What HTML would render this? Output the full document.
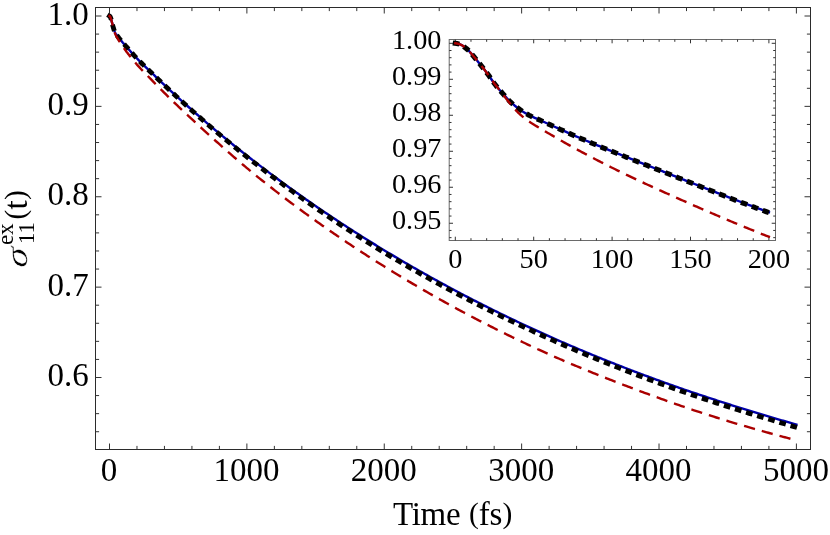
<!DOCTYPE html>
<html><head><meta charset="utf-8"><title>Chart</title>
<style>html,body{margin:0;padding:0;background:#fff;}svg{display:block;will-change:transform;}</style>
</head><body>
<svg width="830" height="535" viewBox="0 0 830 535">
<rect x="0" y="0" width="830" height="535" fill="#fff"/>
<rect x="95.5" y="7.5" width="715.0" height="442.0" fill="none" stroke="#2b2b2b" stroke-width="1"/>
<path d="M109.50 449.50 v-6.00 M109.50 7.50 v6.00 M136.98 449.50 v-3.60 M136.98 7.50 v3.60 M164.45 449.50 v-3.60 M164.45 7.50 v3.60 M191.93 449.50 v-3.60 M191.93 7.50 v3.60 M219.40 449.50 v-3.60 M219.40 7.50 v3.60 M246.88 449.50 v-6.00 M246.88 7.50 v6.00 M274.36 449.50 v-3.60 M274.36 7.50 v3.60 M301.83 449.50 v-3.60 M301.83 7.50 v3.60 M329.31 449.50 v-3.60 M329.31 7.50 v3.60 M356.78 449.50 v-3.60 M356.78 7.50 v3.60 M384.26 449.50 v-6.00 M384.26 7.50 v6.00 M411.74 449.50 v-3.60 M411.74 7.50 v3.60 M439.21 449.50 v-3.60 M439.21 7.50 v3.60 M466.69 449.50 v-3.60 M466.69 7.50 v3.60 M494.16 449.50 v-3.60 M494.16 7.50 v3.60 M521.64 449.50 v-6.00 M521.64 7.50 v6.00 M549.12 449.50 v-3.60 M549.12 7.50 v3.60 M576.59 449.50 v-3.60 M576.59 7.50 v3.60 M604.07 449.50 v-3.60 M604.07 7.50 v3.60 M631.54 449.50 v-3.60 M631.54 7.50 v3.60 M659.02 449.50 v-6.00 M659.02 7.50 v6.00 M686.50 449.50 v-3.60 M686.50 7.50 v3.60 M713.97 449.50 v-3.60 M713.97 7.50 v3.60 M741.45 449.50 v-3.60 M741.45 7.50 v3.60 M768.92 449.50 v-3.60 M768.92 7.50 v3.60 M796.40 449.50 v-6.00 M796.40 7.50 v6.00 M95.50 16.00 h6.00 M810.50 16.00 h-6.00 M95.50 34.08 h3.60 M810.50 34.08 h-3.60 M95.50 52.15 h3.60 M810.50 52.15 h-3.60 M95.50 70.23 h3.60 M810.50 70.23 h-3.60 M95.50 88.30 h3.60 M810.50 88.30 h-3.60 M95.50 106.37 h6.00 M810.50 106.37 h-6.00 M95.50 124.45 h3.60 M810.50 124.45 h-3.60 M95.50 142.53 h3.60 M810.50 142.53 h-3.60 M95.50 160.60 h3.60 M810.50 160.60 h-3.60 M95.50 178.67 h3.60 M810.50 178.67 h-3.60 M95.50 196.75 h6.00 M810.50 196.75 h-6.00 M95.50 214.82 h3.60 M810.50 214.82 h-3.60 M95.50 232.90 h3.60 M810.50 232.90 h-3.60 M95.50 250.97 h3.60 M810.50 250.97 h-3.60 M95.50 269.05 h3.60 M810.50 269.05 h-3.60 M95.50 287.13 h6.00 M810.50 287.13 h-6.00 M95.50 305.20 h3.60 M810.50 305.20 h-3.60 M95.50 323.28 h3.60 M810.50 323.28 h-3.60 M95.50 341.35 h3.60 M810.50 341.35 h-3.60 M95.50 359.43 h3.60 M810.50 359.43 h-3.60 M95.50 377.50 h6.00 M810.50 377.50 h-6.00 M95.50 395.57 h3.60 M810.50 395.57 h-3.60 M95.50 413.65 h3.60 M810.50 413.65 h-3.60 M95.50 431.72 h3.60 M810.50 431.72 h-3.60" stroke="#333" stroke-width="1" fill="none"/>
<g fill="none" stroke-linecap="square" stroke-linejoin="round">
<path d="M109.50 16.00 L109.84 16.21 L110.19 16.69 L110.53 17.46 L110.87 18.49 L111.22 19.66 L111.56 20.85 L111.90 22.10 L112.25 23.37 L112.59 24.74 L112.93 26.14 L113.28 27.36 L113.62 28.49 L113.96 29.61 L114.31 30.64 L114.65 31.52 L115.00 32.29 L115.34 32.98 L115.68 33.59 L116.03 34.14 L116.37 34.60 L116.71 35.02 L117.06 35.47 L117.40 35.92 L117.74 36.36 L118.09 36.81 L118.43 37.25 L118.77 37.70 L119.12 38.14 L119.46 38.58 L119.80 39.01 L120.15 39.44 L120.49 39.87 L120.83 40.29 L121.18 40.70 L121.52 41.11 L121.86 41.52 L122.21 41.93 L122.55 42.33 L122.89 42.73 L123.24 43.12 L123.58 43.52 L123.92 43.91 L124.27 44.31 L124.61 44.70 L124.96 45.09 L125.30 45.48 L125.64 45.87 L125.99 46.25 L126.33 46.64 L126.67 47.03 L127.02 47.42 L127.36 47.81 L127.70 48.20 L128.05 48.59 L128.39 48.98 L128.73 49.37 L129.08 49.76 L129.42 50.15 L129.76 50.54 L130.11 50.93 L130.45 51.32 L130.79 51.70 L131.14 52.09 L131.48 52.48 L131.82 52.86 L132.17 53.24 L132.51 53.63 L132.85 54.01 L133.20 54.39 L133.54 54.76 L133.88 55.14 L134.23 55.51 L134.57 55.89 L134.92 56.26 L135.26 56.63 L135.60 56.99 L135.95 57.36 L136.29 57.72 L136.63 58.08 L136.98 58.44 L137.66 59.15 L139.31 60.83 L140.96 62.47 L142.62 64.09 L144.27 65.69 L145.92 67.28 L147.57 68.86 L149.22 70.44 L150.87 72.03 L152.52 73.63 L154.17 75.22 L155.82 76.80 L157.47 78.38 L159.13 79.95 L160.78 81.52 L162.43 83.08 L164.08 84.64 L165.73 86.19 L167.38 87.73 L169.03 89.27 L170.68 90.80 L172.33 92.32 L173.98 93.84 L175.64 95.35 L177.29 96.85 L178.94 98.35 L180.59 99.84 L182.24 101.33 L183.89 102.81 L185.54 104.29 L187.19 105.76 L188.84 107.23 L190.49 108.69 L192.14 110.15 L193.80 111.60 L195.45 113.05 L197.10 114.49 L198.75 115.93 L200.40 117.37 L202.05 118.80 L203.70 120.22 L205.35 121.64 L207.00 123.05 L208.65 124.46 L210.31 125.86 L211.96 127.26 L213.61 128.66 L215.26 130.05 L216.91 131.43 L218.56 132.81 L220.21 134.18 L221.86 135.55 L223.51 136.91 L225.16 138.27 L226.82 139.62 L228.47 140.97 L230.12 142.31 L231.77 143.65 L233.42 144.98 L235.07 146.31 L236.72 147.63 L238.37 148.95 L240.02 150.26 L241.67 151.56 L243.32 152.86 L244.98 154.16 L246.63 155.45 L248.28 156.74 L249.93 158.03 L251.58 159.31 L253.23 160.58 L254.88 161.86 L256.53 163.13 L258.18 164.39 L259.83 165.65 L261.49 166.91 L263.14 168.16 L264.79 169.41 L266.44 170.65 L268.09 171.90 L269.74 173.13 L271.39 174.37 L273.04 175.60 L274.69 176.82 L276.34 178.04 L278.00 179.26 L279.65 180.48 L281.30 181.69 L282.95 182.89 L284.60 184.10 L286.25 185.30 L287.90 186.49 L289.55 187.68 L291.20 188.87 L292.85 190.06 L294.51 191.24 L296.16 192.42 L297.81 193.59 L299.46 194.76 L301.11 195.93 L302.76 197.09 L304.41 198.25 L306.06 199.40 L307.71 200.56 L309.36 201.71 L311.01 202.85 L312.67 203.99 L314.32 205.13 L315.97 206.27 L317.62 207.40 L319.27 208.53 L320.92 209.65 L322.57 210.77 L324.22 211.89 L325.87 213.00 L327.52 214.11 L329.18 215.22 L330.83 216.32 L332.48 217.42 L334.13 218.52 L335.78 219.62 L337.43 220.71 L339.08 221.79 L340.73 222.88 L342.38 223.96 L344.03 225.03 L345.69 226.11 L347.34 227.18 L348.99 228.25 L350.64 229.31 L352.29 230.37 L353.94 231.43 L355.59 232.48 L357.24 233.53 L358.89 234.58 L360.54 235.63 L362.19 236.67 L363.85 237.71 L365.50 238.74 L367.15 239.78 L368.80 240.80 L370.45 241.83 L372.10 242.85 L373.75 243.87 L375.40 244.89 L377.05 245.90 L378.70 246.91 L380.36 247.92 L382.01 248.92 L383.66 249.92 L385.31 250.92 L386.96 251.92 L388.61 252.91 L390.26 253.90 L391.91 254.89 L393.56 255.87 L395.21 256.85 L396.87 257.83 L398.52 258.80 L400.17 259.77 L401.82 260.74 L403.47 261.70 L405.12 262.67 L406.77 263.63 L408.42 264.58 L410.07 265.54 L411.72 266.49 L413.37 267.44 L415.03 268.38 L416.68 269.32 L418.33 270.26 L419.98 271.20 L421.63 272.13 L423.28 273.06 L424.93 273.99 L426.58 274.92 L428.23 275.84 L429.88 276.76 L431.54 277.68 L433.19 278.59 L434.84 279.50 L436.49 280.41 L438.14 281.32 L439.79 282.22 L441.44 283.12 L443.09 284.02 L444.74 284.91 L446.39 285.81 L448.05 286.70 L449.70 287.58 L451.35 288.47 L453.00 289.35 L454.65 290.23 L456.30 291.10 L457.95 291.98 L459.60 292.85 L461.25 293.72 L462.90 294.58 L464.55 295.45 L466.21 296.31 L467.86 297.16 L469.51 298.02 L471.16 298.87 L472.81 299.72 L474.46 300.57 L476.11 301.42 L477.76 302.26 L479.41 303.10 L481.06 303.94 L482.72 304.77 L484.37 305.60 L486.02 306.43 L487.67 307.26 L489.32 308.09 L490.97 308.91 L492.62 309.73 L494.27 310.55 L495.92 311.36 L497.57 312.17 L499.23 312.98 L500.88 313.79 L502.53 314.60 L504.18 315.40 L505.83 316.20 L507.48 317.00 L509.13 317.79 L510.78 318.59 L512.43 319.38 L514.08 320.17 L515.74 320.95 L517.39 321.74 L519.04 322.52 L520.69 323.30 L522.34 324.07 L523.99 324.85 L525.64 325.62 L527.29 326.39 L528.94 327.16 L530.59 327.92 L532.24 328.68 L533.90 329.44 L535.55 330.20 L537.20 330.95 L538.85 331.71 L540.50 332.46 L542.15 333.20 L543.80 333.95 L545.45 334.69 L547.10 335.43 L548.75 336.17 L550.41 336.91 L552.06 337.64 L553.71 338.37 L555.36 339.10 L557.01 339.83 L558.66 340.55 L560.31 341.27 L561.96 341.99 L563.61 342.71 L565.26 343.43 L566.92 344.14 L568.57 344.85 L570.22 345.56 L571.87 346.26 L573.52 346.97 L575.17 347.67 L576.82 348.37 L578.47 349.07 L580.12 349.76 L581.77 350.46 L583.42 351.15 L585.08 351.84 L586.73 352.52 L588.38 353.21 L590.03 353.89 L591.68 354.57 L593.33 355.25 L594.98 355.93 L596.63 356.60 L598.28 357.27 L599.93 357.94 L601.59 358.61 L603.24 359.28 L604.89 359.94 L606.54 360.60 L608.19 361.26 L609.84 361.92 L611.49 362.57 L613.14 363.23 L614.79 363.88 L616.44 364.53 L618.10 365.18 L619.75 365.82 L621.40 366.47 L623.05 367.11 L624.70 367.75 L626.35 368.39 L628.00 369.02 L629.65 369.66 L631.30 370.29 L632.95 370.92 L634.60 371.55 L636.26 372.17 L637.91 372.80 L639.56 373.42 L641.21 374.04 L642.86 374.66 L644.51 375.27 L646.16 375.89 L647.81 376.50 L649.46 377.11 L651.11 377.72 L652.77 378.33 L654.42 378.94 L656.07 379.54 L657.72 380.14 L659.37 380.74 L661.02 381.34 L662.67 381.94 L664.32 382.53 L665.97 383.13 L667.62 383.72 L669.28 384.30 L670.93 384.89 L672.58 385.47 L674.23 386.06 L675.88 386.64 L677.53 387.21 L679.18 387.79 L680.83 388.36 L682.48 388.94 L684.13 389.51 L685.78 390.08 L687.44 390.64 L689.09 391.21 L690.74 391.77 L692.39 392.33 L694.04 392.89 L695.69 393.45 L697.34 394.00 L698.99 394.56 L700.64 395.11 L702.29 395.66 L703.95 396.21 L705.60 396.75 L707.25 397.30 L708.90 397.84 L710.55 398.38 L712.20 398.92 L713.85 399.46 L715.50 400.00 L717.15 400.53 L718.80 401.07 L720.46 401.60 L722.11 402.13 L723.76 402.66 L725.41 403.19 L727.06 403.71 L728.71 404.24 L730.36 404.76 L732.01 405.28 L733.66 405.80 L735.31 406.32 L736.97 406.83 L738.62 407.35 L740.27 407.86 L741.92 408.37 L743.57 408.89 L745.22 409.40 L746.87 409.90 L748.52 410.41 L750.17 410.92 L751.82 411.42 L753.47 411.92 L755.13 412.42 L756.78 412.92 L758.43 413.42 L760.08 413.92 L761.73 414.42 L763.38 414.91 L765.03 415.41 L766.68 415.90 L768.33 416.39 L769.98 416.88 L771.64 417.37 L773.29 417.86 L774.94 418.35 L776.59 418.83 L778.24 419.32 L779.89 419.80 L781.54 420.28 L783.19 420.76 L784.84 421.24 L786.49 421.72 L788.15 422.20 L789.80 422.68 L791.45 423.16 L793.10 423.63 L794.75 424.10 L796.40 424.58" stroke="#0000aa" stroke-width="2.4"/>
<path d="M109.50 16.00 L109.84 16.21 L110.19 16.69 L110.53 17.46 L110.87 18.49 L111.22 19.66 L111.56 20.86 L111.90 22.10 L112.25 23.38 L112.59 24.74 L112.93 26.15 L113.28 27.36 L113.62 28.50 L113.96 29.62 L114.31 30.65 L114.65 31.53 L115.00 32.31 L115.34 32.99 L115.68 33.61 L116.03 34.15 L116.37 34.61 L116.71 35.04 L117.06 35.49 L117.40 35.93 L117.74 36.38 L118.09 36.83 L118.43 37.27 L118.77 37.72 L119.12 38.16 L119.46 38.60 L119.80 39.04 L120.15 39.47 L120.49 39.89 L120.83 40.31 L121.18 40.73 L121.52 41.14 L121.86 41.55 L122.21 41.96 L122.55 42.36 L122.89 42.76 L123.24 43.16 L123.58 43.56 L123.92 43.95 L124.27 44.34 L124.61 44.74 L124.96 45.13 L125.30 45.52 L125.64 45.91 L125.99 46.30 L126.33 46.69 L126.67 47.08 L127.02 47.47 L127.36 47.86 L127.70 48.25 L128.05 48.65 L128.39 49.04 L128.73 49.43 L129.08 49.82 L129.42 50.21 L129.76 50.60 L130.11 50.99 L130.45 51.38 L130.79 51.77 L131.14 52.16 L131.48 52.54 L131.82 52.93 L132.17 53.31 L132.51 53.70 L132.85 54.08 L133.20 54.46 L133.54 54.84 L133.88 55.22 L134.23 55.59 L134.57 55.97 L134.92 56.34 L135.26 56.71 L135.60 57.08 L135.95 57.44 L136.29 57.81 L136.63 58.17 L136.98 58.53 L137.66 59.24 L139.31 60.93 L140.96 62.58 L142.62 64.21 L144.27 65.82 L145.92 67.42 L147.57 69.01 L149.22 70.60 L150.87 72.21 L152.52 73.81 L154.17 75.41 L155.82 77.01 L157.47 78.60 L159.13 80.19 L160.78 81.77 L162.43 83.34 L164.08 84.92 L165.73 86.48 L167.38 88.04 L169.03 89.59 L170.68 91.14 L172.33 92.67 L173.98 94.21 L175.64 95.73 L177.29 97.25 L178.94 98.77 L180.59 100.27 L182.24 101.78 L183.89 103.28 L185.54 104.77 L187.19 106.26 L188.84 107.74 L190.49 109.22 L192.14 110.69 L193.80 112.16 L195.45 113.63 L197.10 115.09 L198.75 116.54 L200.40 118.00 L202.05 119.44 L203.70 120.89 L205.35 122.32 L207.00 123.76 L208.65 125.18 L210.31 126.61 L211.96 128.03 L213.61 129.44 L215.26 130.85 L216.91 132.25 L218.56 133.65 L220.21 135.05 L221.86 136.43 L223.51 137.82 L225.16 139.20 L226.82 140.57 L228.47 141.94 L230.12 143.30 L231.77 144.66 L233.42 146.01 L235.07 147.35 L236.72 148.69 L238.37 150.03 L240.02 151.36 L241.67 152.68 L243.32 154.00 L244.98 155.32 L246.63 156.63 L248.28 157.93 L249.93 159.23 L251.58 160.53 L253.23 161.82 L254.88 163.11 L256.53 164.40 L258.18 165.68 L259.83 166.96 L261.49 168.23 L263.14 169.50 L264.79 170.77 L266.44 172.03 L268.09 173.28 L269.74 174.54 L271.39 175.79 L273.04 177.03 L274.69 178.27 L276.34 179.51 L278.00 180.75 L279.65 181.98 L281.30 183.20 L282.95 184.42 L284.60 185.64 L286.25 186.86 L287.90 188.07 L289.55 189.27 L291.20 190.48 L292.85 191.68 L294.51 192.87 L296.16 194.06 L297.81 195.25 L299.46 196.44 L301.11 197.62 L302.76 198.79 L304.41 199.97 L306.06 201.14 L307.71 202.30 L309.36 203.46 L311.01 204.62 L312.67 205.78 L314.32 206.93 L315.97 208.08 L317.62 209.22 L319.27 210.36 L320.92 211.50 L322.57 212.63 L324.22 213.77 L325.87 214.89 L327.52 216.02 L329.18 217.14 L330.83 218.26 L332.48 219.37 L334.13 220.49 L335.78 221.59 L337.43 222.70 L339.08 223.80 L340.73 224.90 L342.38 225.99 L344.03 227.09 L345.69 228.17 L347.34 229.26 L348.99 230.34 L350.64 231.42 L352.29 232.49 L353.94 233.56 L355.59 234.63 L357.24 235.69 L358.89 236.75 L360.54 237.80 L362.19 238.86 L363.85 239.90 L365.50 240.95 L367.15 241.99 L368.80 243.03 L370.45 244.06 L372.10 245.09 L373.75 246.11 L375.40 247.13 L377.05 248.15 L378.70 249.17 L380.36 250.18 L382.01 251.18 L383.66 252.18 L385.31 253.18 L386.96 254.18 L388.61 255.17 L390.26 256.16 L391.91 257.14 L393.56 258.13 L395.21 259.11 L396.87 260.08 L398.52 261.06 L400.17 262.03 L401.82 263.00 L403.47 263.96 L405.12 264.93 L406.77 265.89 L408.42 266.84 L410.07 267.80 L411.72 268.75 L413.37 269.70 L415.03 270.64 L416.68 271.58 L418.33 272.52 L419.98 273.46 L421.63 274.39 L423.28 275.32 L424.93 276.25 L426.58 277.18 L428.23 278.10 L429.88 279.02 L431.54 279.94 L433.19 280.85 L434.84 281.76 L436.49 282.67 L438.14 283.58 L439.79 284.48 L441.44 285.38 L443.09 286.28 L444.74 287.17 L446.39 288.07 L448.05 288.95 L449.70 289.84 L451.35 290.73 L453.00 291.61 L454.65 292.49 L456.30 293.36 L457.95 294.24 L459.60 295.11 L461.25 295.98 L462.90 296.84 L464.55 297.71 L466.21 298.57 L467.86 299.42 L469.51 300.28 L471.16 301.13 L472.81 301.98 L474.46 302.83 L476.11 303.68 L477.76 304.52 L479.41 305.36 L481.06 306.20 L482.72 307.03 L484.37 307.86 L486.02 308.69 L487.67 309.52 L489.32 310.35 L490.97 311.17 L492.62 311.99 L494.27 312.81 L495.92 313.62 L497.57 314.43 L499.23 315.24 L500.88 316.05 L502.53 316.86 L504.18 317.66 L505.83 318.46 L507.48 319.26 L509.13 320.05 L510.78 320.85 L512.43 321.64 L514.08 322.43 L515.74 323.21 L517.39 324.00 L519.04 324.78 L520.69 325.56 L522.34 326.33 L523.99 327.11 L525.64 327.88 L527.29 328.65 L528.94 329.42 L530.59 330.18 L532.24 330.94 L533.90 331.71 L535.55 332.46 L537.20 333.22 L538.85 333.97 L540.50 334.73 L542.15 335.48 L543.80 336.22 L545.45 336.97 L547.10 337.71 L548.75 338.45 L550.41 339.19 L552.06 339.93 L553.71 340.66 L555.36 341.39 L557.01 342.12 L558.66 342.85 L560.31 343.57 L561.96 344.30 L563.61 345.02 L565.26 345.74 L566.92 346.45 L568.57 347.17 L570.22 347.88 L571.87 348.59 L573.52 349.30 L575.17 350.00 L576.82 350.71 L578.47 351.41 L580.12 352.11 L581.77 352.80 L583.42 353.50 L585.08 354.19 L586.73 354.88 L588.38 355.57 L590.03 356.26 L591.68 356.94 L593.33 357.63 L594.98 358.31 L596.63 358.98 L598.28 359.66 L599.93 360.33 L601.59 361.01 L603.24 361.68 L604.89 362.35 L606.54 363.01 L608.19 363.68 L609.84 364.34 L611.49 365.00 L613.14 365.66 L614.79 366.31 L616.44 366.97 L618.10 367.62 L619.75 368.27 L621.40 368.92 L623.05 369.56 L624.70 370.21 L626.35 370.85 L628.00 371.49 L629.65 372.13 L631.30 372.76 L632.95 373.40 L634.60 374.03 L636.26 374.66 L637.91 375.29 L639.56 375.91 L641.21 376.54 L642.86 377.16 L644.51 377.78 L646.16 378.40 L647.81 379.01 L649.46 379.63 L651.11 380.24 L652.77 380.85 L654.42 381.46 L656.07 382.07 L657.72 382.67 L659.37 383.28 L661.02 383.88 L662.67 384.48 L664.32 385.07 L665.97 385.67 L667.62 386.26 L669.28 386.85 L670.93 387.44 L672.58 388.03 L674.23 388.61 L675.88 389.19 L677.53 389.78 L679.18 390.35 L680.83 390.93 L682.48 391.51 L684.13 392.08 L685.78 392.65 L687.44 393.22 L689.09 393.79 L690.74 394.35 L692.39 394.92 L694.04 395.48 L695.69 396.04 L697.34 396.60 L698.99 397.16 L700.64 397.71 L702.29 398.26 L703.95 398.82 L705.60 399.36 L707.25 399.91 L708.90 400.46 L710.55 401.00 L712.20 401.55 L713.85 402.09 L715.50 402.63 L717.15 403.16 L718.80 403.70 L720.46 404.24 L722.11 404.77 L723.76 405.30 L725.41 405.83 L727.06 406.36 L728.71 406.88 L730.36 407.41 L732.01 407.93 L733.66 408.46 L735.31 408.98 L736.97 409.50 L738.62 410.01 L740.27 410.53 L741.92 411.04 L743.57 411.56 L745.22 412.07 L746.87 412.58 L748.52 413.09 L750.17 413.60 L751.82 414.10 L753.47 414.61 L755.13 415.11 L756.78 415.61 L758.43 416.11 L760.08 416.61 L761.73 417.11 L763.38 417.61 L765.03 418.10 L766.68 418.60 L768.33 419.09 L769.98 419.58 L771.64 420.07 L773.29 420.56 L774.94 421.05 L776.59 421.54 L778.24 422.02 L779.89 422.51 L781.54 422.99 L783.19 423.47 L784.84 423.95 L786.49 424.43 L788.15 424.91 L789.80 425.39 L791.45 425.87 L793.10 426.34 L794.75 426.82 L796.40 427.29" stroke="#000" stroke-width="4.8" stroke-dasharray="1.9 9.7"/>
<path d="M109.50 16.00 L109.84 16.21 L110.19 16.69 L110.53 17.46 L110.87 18.49 L111.22 19.66 L111.56 20.85 L111.90 22.10 L112.25 23.37 L112.59 24.74 L112.93 26.14 L113.28 27.41 L113.62 28.66 L113.96 29.94 L114.31 31.17 L114.65 32.33 L115.00 33.38 L115.34 34.27 L115.68 35.06 L116.03 35.77 L116.37 36.39 L116.71 36.98 L117.06 37.57 L117.40 38.15 L117.74 38.73 L118.09 39.31 L118.43 39.88 L118.77 40.44 L119.12 41.00 L119.46 41.55 L119.80 42.09 L120.15 42.63 L120.49 43.17 L120.83 43.69 L121.18 44.22 L121.52 44.73 L121.86 45.25 L122.21 45.75 L122.55 46.26 L122.89 46.75 L123.24 47.25 L123.58 47.74 L123.92 48.22 L124.27 48.70 L124.61 49.18 L124.96 49.65 L125.30 50.11 L125.64 50.58 L125.99 51.03 L126.33 51.49 L126.67 51.94 L127.02 52.38 L127.36 52.83 L127.70 53.27 L128.05 53.72 L128.39 54.16 L128.73 54.60 L129.08 55.04 L129.42 55.48 L129.76 55.91 L130.11 56.35 L130.45 56.78 L130.79 57.21 L131.14 57.64 L131.48 58.06 L131.82 58.49 L132.17 58.91 L132.51 59.33 L132.85 59.75 L133.20 60.17 L133.54 60.58 L133.88 60.99 L134.23 61.40 L134.57 61.81 L134.92 62.21 L135.26 62.61 L135.60 63.01 L135.95 63.41 L136.29 63.81 L136.63 64.20 L136.98 64.59 L137.66 65.36 L139.31 67.17 L140.96 68.95 L142.62 70.70 L144.27 72.42 L145.92 74.13 L147.57 75.82 L149.22 77.51 L150.87 79.21 L152.52 80.90 L154.17 82.59 L155.82 84.27 L157.47 85.94 L159.13 87.61 L160.78 89.27 L162.43 90.92 L164.08 92.57 L165.73 94.21 L167.38 95.84 L169.03 97.47 L170.68 99.08 L172.33 100.69 L173.98 102.29 L175.64 103.88 L177.29 105.46 L178.94 107.04 L180.59 108.61 L182.24 110.17 L183.89 111.73 L185.54 113.28 L187.19 114.83 L188.84 116.37 L190.49 117.91 L192.14 119.44 L193.80 120.97 L195.45 122.50 L197.10 124.02 L198.75 125.53 L200.40 127.05 L202.05 128.55 L203.70 130.06 L205.35 131.56 L207.00 133.06 L208.65 134.56 L210.31 136.05 L211.96 137.55 L213.61 139.03 L215.26 140.52 L216.91 142.00 L218.56 143.48 L220.21 144.95 L221.86 146.42 L223.51 147.89 L225.16 149.35 L226.82 150.80 L228.47 152.25 L230.12 153.69 L231.77 155.13 L233.42 156.57 L235.07 157.99 L236.72 159.42 L238.37 160.83 L240.02 162.24 L241.67 163.64 L243.32 165.03 L244.98 166.42 L246.63 167.81 L248.28 169.19 L249.93 170.56 L251.58 171.92 L253.23 173.28 L254.88 174.63 L256.53 175.97 L258.18 177.31 L259.83 178.63 L261.49 179.96 L263.14 181.27 L264.79 182.58 L266.44 183.89 L268.09 185.19 L269.74 186.49 L271.39 187.78 L273.04 189.06 L274.69 190.35 L276.34 191.62 L278.00 192.90 L279.65 194.17 L281.30 195.43 L282.95 196.69 L284.60 197.94 L286.25 199.20 L287.90 200.44 L289.55 201.68 L291.20 202.92 L292.85 204.15 L294.51 205.38 L296.16 206.61 L297.81 207.83 L299.46 209.05 L301.11 210.26 L302.76 211.47 L304.41 212.67 L306.06 213.87 L307.71 215.07 L309.36 216.26 L311.01 217.45 L312.67 218.63 L314.32 219.81 L315.97 220.99 L317.62 222.16 L319.27 223.33 L320.92 224.49 L322.57 225.65 L324.22 226.81 L325.87 227.97 L327.52 229.12 L329.18 230.26 L330.83 231.40 L332.48 232.54 L334.13 233.68 L335.78 234.81 L337.43 235.94 L339.08 237.07 L340.73 238.19 L342.38 239.31 L344.03 240.42 L345.69 241.53 L347.34 242.64 L348.99 243.74 L350.64 244.84 L352.29 245.94 L353.94 247.03 L355.59 248.12 L357.24 249.21 L358.89 250.29 L360.54 251.37 L362.19 252.44 L363.85 253.51 L365.50 254.58 L367.15 255.64 L368.80 256.71 L370.45 257.76 L372.10 258.82 L373.75 259.87 L375.40 260.91 L377.05 261.95 L378.70 262.99 L380.36 264.03 L382.01 265.06 L383.66 266.09 L385.31 267.12 L386.96 268.14 L388.61 269.16 L390.26 270.18 L391.91 271.19 L393.56 272.20 L395.21 273.21 L396.87 274.22 L398.52 275.22 L400.17 276.22 L401.82 277.21 L403.47 278.21 L405.12 279.20 L406.77 280.18 L408.42 281.17 L410.07 282.15 L411.72 283.13 L413.37 284.10 L415.03 285.08 L416.68 286.05 L418.33 287.01 L419.98 287.98 L421.63 288.94 L423.28 289.90 L424.93 290.85 L426.58 291.80 L428.23 292.75 L429.88 293.70 L431.54 294.64 L433.19 295.58 L434.84 296.52 L436.49 297.45 L438.14 298.38 L439.79 299.31 L441.44 300.23 L443.09 301.16 L444.74 302.08 L446.39 302.99 L448.05 303.91 L449.70 304.82 L451.35 305.72 L453.00 306.63 L454.65 307.53 L456.30 308.43 L457.95 309.32 L459.60 310.21 L461.25 311.10 L462.90 311.99 L464.55 312.87 L466.21 313.75 L467.86 314.63 L469.51 315.51 L471.16 316.38 L472.81 317.25 L474.46 318.11 L476.11 318.97 L477.76 319.83 L479.41 320.69 L481.06 321.54 L482.72 322.39 L484.37 323.24 L486.02 324.08 L487.67 324.93 L489.32 325.76 L490.97 326.60 L492.62 327.43 L494.27 328.26 L495.92 329.09 L497.57 329.91 L499.23 330.73 L500.88 331.55 L502.53 332.37 L504.18 333.18 L505.83 334.00 L507.48 334.80 L509.13 335.61 L510.78 336.42 L512.43 337.22 L514.08 338.02 L515.74 338.81 L517.39 339.61 L519.04 340.40 L520.69 341.19 L522.34 341.97 L523.99 342.76 L525.64 343.54 L527.29 344.32 L528.94 345.09 L530.59 345.86 L532.24 346.63 L533.90 347.40 L535.55 348.16 L537.20 348.92 L538.85 349.68 L540.50 350.43 L542.15 351.18 L543.80 351.93 L545.45 352.67 L547.10 353.42 L548.75 354.16 L550.41 354.89 L552.06 355.62 L553.71 356.35 L555.36 357.08 L557.01 357.80 L558.66 358.52 L560.31 359.24 L561.96 359.95 L563.61 360.67 L565.26 361.37 L566.92 362.08 L568.57 362.78 L570.22 363.48 L571.87 364.18 L573.52 364.88 L575.17 365.57 L576.82 366.26 L578.47 366.95 L580.12 367.63 L581.77 368.31 L583.42 368.99 L585.08 369.67 L586.73 370.34 L588.38 371.02 L590.03 371.69 L591.68 372.36 L593.33 373.02 L594.98 373.69 L596.63 374.35 L598.28 375.01 L599.93 375.67 L601.59 376.32 L603.24 376.97 L604.89 377.63 L606.54 378.28 L608.19 378.92 L609.84 379.57 L611.49 380.21 L613.14 380.86 L614.79 381.50 L616.44 382.14 L618.10 382.77 L619.75 383.41 L621.40 384.05 L623.05 384.68 L624.70 385.31 L626.35 385.94 L628.00 386.57 L629.65 387.19 L631.30 387.82 L632.95 388.45 L634.60 389.07 L636.26 389.69 L637.91 390.31 L639.56 390.93 L641.21 391.54 L642.86 392.16 L644.51 392.77 L646.16 393.38 L647.81 393.99 L649.46 394.60 L651.11 395.20 L652.77 395.81 L654.42 396.41 L656.07 397.01 L657.72 397.61 L659.37 398.21 L661.02 398.80 L662.67 399.40 L664.32 399.99 L665.97 400.58 L667.62 401.16 L669.28 401.75 L670.93 402.33 L672.58 402.91 L674.23 403.49 L675.88 404.07 L677.53 404.64 L679.18 405.21 L680.83 405.78 L682.48 406.35 L684.13 406.92 L685.78 407.48 L687.44 408.04 L689.09 408.60 L690.74 409.16 L692.39 409.71 L694.04 410.27 L695.69 410.82 L697.34 411.37 L698.99 411.91 L700.64 412.46 L702.29 413.00 L703.95 413.54 L705.60 414.08 L707.25 414.61 L708.90 415.14 L710.55 415.67 L712.20 416.20 L713.85 416.72 L715.50 417.25 L717.15 417.76 L718.80 418.28 L720.46 418.80 L722.11 419.31 L723.76 419.82 L725.41 420.32 L727.06 420.83 L728.71 421.33 L730.36 421.83 L732.01 422.33 L733.66 422.83 L735.31 423.32 L736.97 423.81 L738.62 424.30 L740.27 424.79 L741.92 425.27 L743.57 425.76 L745.22 426.24 L746.87 426.72 L748.52 427.20 L750.17 427.67 L751.82 428.15 L753.47 428.62 L755.13 429.09 L756.78 429.55 L758.43 430.02 L760.08 430.48 L761.73 430.95 L763.38 431.41 L765.03 431.87 L766.68 432.33 L768.33 432.78 L769.98 433.24 L771.64 433.69 L773.29 434.14 L774.94 434.59 L776.59 435.04 L778.24 435.48 L779.89 435.93 L781.54 436.37 L783.19 436.81 L784.84 437.25 L786.49 437.69 L788.15 438.13 L789.80 438.57 L791.45 439.00 L793.10 439.44 L794.75 439.87 L796.40 440.30" stroke="#aa0000" stroke-width="2.4" stroke-dasharray="8.9 9.5"/>
</g>
<rect x="449.2" y="39.5" width="326.3" height="201.0" fill="#fff" stroke="#6a6a6a" stroke-width="1"/>
<path d="M455.30 240.50 v-3.80 M455.30 39.50 v3.80 M470.98 240.50 v-2.30 M470.98 39.50 v2.30 M486.66 240.50 v-2.30 M486.66 39.50 v2.30 M502.34 240.50 v-2.30 M502.34 39.50 v2.30 M518.02 240.50 v-2.30 M518.02 39.50 v2.30 M533.70 240.50 v-3.80 M533.70 39.50 v3.80 M549.38 240.50 v-2.30 M549.38 39.50 v2.30 M565.06 240.50 v-2.30 M565.06 39.50 v2.30 M580.74 240.50 v-2.30 M580.74 39.50 v2.30 M596.42 240.50 v-2.30 M596.42 39.50 v2.30 M612.10 240.50 v-3.80 M612.10 39.50 v3.80 M627.78 240.50 v-2.30 M627.78 39.50 v2.30 M643.46 240.50 v-2.30 M643.46 39.50 v2.30 M659.14 240.50 v-2.30 M659.14 39.50 v2.30 M674.82 240.50 v-2.30 M674.82 39.50 v2.30 M690.50 240.50 v-3.80 M690.50 39.50 v3.80 M706.18 240.50 v-2.30 M706.18 39.50 v2.30 M721.86 240.50 v-2.30 M721.86 39.50 v2.30 M737.54 240.50 v-2.30 M737.54 39.50 v2.30 M753.22 240.50 v-2.30 M753.22 39.50 v2.30 M768.90 240.50 v-3.80 M768.90 39.50 v3.80 M449.20 43.30 h3.80 M775.50 43.30 h-3.80 M449.20 50.50 h2.30 M775.50 50.50 h-2.30 M449.20 57.70 h2.30 M775.50 57.70 h-2.30 M449.20 64.89 h2.30 M775.50 64.89 h-2.30 M449.20 72.09 h2.30 M775.50 72.09 h-2.30 M449.20 79.29 h3.80 M775.50 79.29 h-3.80 M449.20 86.49 h2.30 M775.50 86.49 h-2.30 M449.20 93.69 h2.30 M775.50 93.69 h-2.30 M449.20 100.88 h2.30 M775.50 100.88 h-2.30 M449.20 108.08 h2.30 M775.50 108.08 h-2.30 M449.20 115.28 h3.80 M775.50 115.28 h-3.80 M449.20 122.48 h2.30 M775.50 122.48 h-2.30 M449.20 129.68 h2.30 M775.50 129.68 h-2.30 M449.20 136.87 h2.30 M775.50 136.87 h-2.30 M449.20 144.07 h2.30 M775.50 144.07 h-2.30 M449.20 151.27 h3.80 M775.50 151.27 h-3.80 M449.20 158.47 h2.30 M775.50 158.47 h-2.30 M449.20 165.67 h2.30 M775.50 165.67 h-2.30 M449.20 172.86 h2.30 M775.50 172.86 h-2.30 M449.20 180.06 h2.30 M775.50 180.06 h-2.30 M449.20 187.26 h3.80 M775.50 187.26 h-3.80 M449.20 194.46 h2.30 M775.50 194.46 h-2.30 M449.20 201.66 h2.30 M775.50 201.66 h-2.30 M449.20 208.85 h2.30 M775.50 208.85 h-2.30 M449.20 216.05 h2.30 M775.50 216.05 h-2.30 M449.20 223.25 h3.80 M775.50 223.25 h-3.80 M449.20 230.45 h2.30 M775.50 230.45 h-2.30 M449.20 237.65 h2.30 M775.50 237.65 h-2.30" stroke="#333" stroke-width="1" fill="none"/>
<g fill="none" stroke-linecap="square" stroke-linejoin="round">
<path d="M455.30 43.30 L456.87 43.50 L458.44 43.89 L460.00 44.38 L461.57 45.07 L463.14 46.05 L464.71 47.21 L466.28 48.46 L467.84 49.84 L469.41 51.45 L470.98 53.21 L472.55 55.07 L474.12 56.95 L475.68 58.79 L477.25 60.68 L478.82 62.63 L480.39 64.60 L481.96 66.59 L483.52 68.59 L485.09 70.61 L486.66 72.66 L488.23 74.76 L489.80 76.95 L491.36 79.24 L492.93 81.53 L494.50 83.69 L496.07 85.69 L497.64 87.60 L499.20 89.44 L500.77 91.25 L502.34 93.04 L503.91 94.84 L505.48 96.62 L507.04 98.37 L508.61 100.03 L510.18 101.60 L511.75 103.05 L513.32 104.43 L514.88 105.75 L516.45 107.00 L518.02 108.19 L519.59 109.31 L521.16 110.39 L522.72 111.43 L524.29 112.42 L525.86 113.36 L527.43 114.26 L529.00 115.12 L530.56 115.91 L532.13 116.65 L533.70 117.35 L535.27 118.03 L536.84 118.71 L538.40 119.42 L539.97 120.12 L541.54 120.83 L543.11 121.54 L544.68 122.26 L546.24 122.97 L547.81 123.68 L549.38 124.39 L550.95 125.10 L552.52 125.81 L554.08 126.52 L555.65 127.23 L557.22 127.94 L558.79 128.65 L560.36 129.35 L561.92 130.06 L563.49 130.76 L565.06 131.46 L566.63 132.16 L568.20 132.86 L569.76 133.56 L571.33 134.25 L572.90 134.94 L574.47 135.63 L576.04 136.31 L577.60 136.99 L579.17 137.67 L580.74 138.34 L582.31 139.01 L583.88 139.68 L585.44 140.34 L587.01 141.01 L588.58 141.66 L590.15 142.32 L591.72 142.98 L593.28 143.63 L594.85 144.28 L596.42 144.93 L597.99 145.57 L599.56 146.22 L601.12 146.86 L602.69 147.50 L604.26 148.14 L605.83 148.78 L607.40 149.42 L608.96 150.05 L610.53 150.69 L612.10 151.32 L613.67 151.95 L615.24 152.58 L616.80 153.21 L618.37 153.83 L619.94 154.46 L621.51 155.09 L623.08 155.71 L624.64 156.33 L626.21 156.96 L627.78 157.58 L629.35 158.20 L630.92 158.82 L632.48 159.44 L634.05 160.06 L635.62 160.68 L637.19 161.30 L638.76 161.92 L640.32 162.54 L641.89 163.16 L643.46 163.78 L645.03 164.40 L646.60 165.02 L648.16 165.64 L649.73 166.26 L651.30 166.88 L652.87 167.50 L654.44 168.12 L656.00 168.75 L657.57 169.37 L659.14 169.99 L660.71 170.61 L662.28 171.23 L663.84 171.85 L665.41 172.47 L666.98 173.10 L668.55 173.72 L670.12 174.34 L671.68 174.96 L673.25 175.58 L674.82 176.20 L676.39 176.82 L677.96 177.44 L679.52 178.06 L681.09 178.68 L682.66 179.30 L684.23 179.92 L685.80 180.54 L687.36 181.16 L688.93 181.78 L690.50 182.40 L692.07 183.02 L693.64 183.64 L695.20 184.25 L696.77 184.87 L698.34 185.49 L699.91 186.10 L701.48 186.72 L703.04 187.33 L704.61 187.94 L706.18 188.56 L707.75 189.17 L709.32 189.78 L710.88 190.39 L712.45 191.00 L714.02 191.61 L715.59 192.22 L717.16 192.83 L718.72 193.44 L720.29 194.05 L721.86 194.65 L723.43 195.26 L725.00 195.86 L726.56 196.46 L728.13 197.07 L729.70 197.67 L731.27 198.27 L732.84 198.87 L734.40 199.46 L735.97 200.06 L737.54 200.66 L739.11 201.25 L740.68 201.85 L742.24 202.44 L743.81 203.03 L745.38 203.62 L746.95 204.21 L748.52 204.80 L750.08 205.38 L751.65 205.97 L753.22 206.55 L754.79 207.13 L756.36 207.71 L757.92 208.29 L759.49 208.87 L761.06 209.45 L762.63 210.02 L764.20 210.60 L765.76 211.17 L767.33 211.74 L768.90 212.31" stroke="#0000aa" stroke-width="2.4"/>
<path d="M455.30 43.30 L456.87 43.50 L458.44 43.89 L460.00 44.38 L461.57 45.08 L463.14 46.05 L464.71 47.21 L466.28 48.47 L467.84 49.85 L469.41 51.46 L470.98 53.22 L472.55 55.08 L474.12 56.96 L475.68 58.81 L477.25 60.70 L478.82 62.64 L480.39 64.62 L481.96 66.61 L483.52 68.60 L485.09 70.63 L486.66 72.68 L488.23 74.78 L489.80 76.97 L491.36 79.27 L492.93 81.55 L494.50 83.72 L496.07 85.72 L497.64 87.63 L499.20 89.47 L500.77 91.28 L502.34 93.07 L503.91 94.87 L505.48 96.66 L507.04 98.40 L508.61 100.07 L510.18 101.63 L511.75 103.09 L513.32 104.47 L514.88 105.79 L516.45 107.04 L518.02 108.23 L519.59 109.36 L521.16 110.44 L522.72 111.47 L524.29 112.47 L525.86 113.41 L527.43 114.32 L529.00 115.17 L530.56 115.97 L532.13 116.71 L533.70 117.41 L535.27 118.09 L536.84 118.78 L538.40 119.48 L539.97 120.19 L541.54 120.90 L543.11 121.61 L544.68 122.32 L546.24 123.04 L547.81 123.75 L549.38 124.46 L550.95 125.18 L552.52 125.89 L554.08 126.60 L555.65 127.31 L557.22 128.02 L558.79 128.73 L560.36 129.44 L561.92 130.14 L563.49 130.85 L565.06 131.55 L566.63 132.25 L568.20 132.95 L569.76 133.65 L571.33 134.34 L572.90 135.04 L574.47 135.73 L576.04 136.41 L577.60 137.09 L579.17 137.77 L580.74 138.45 L582.31 139.12 L583.88 139.79 L585.44 140.45 L587.01 141.12 L588.58 141.78 L590.15 142.44 L591.72 143.09 L593.28 143.75 L594.85 144.40 L596.42 145.05 L597.99 145.70 L599.56 146.35 L601.12 146.99 L602.69 147.63 L604.26 148.27 L605.83 148.91 L607.40 149.55 L608.96 150.19 L610.53 150.82 L612.10 151.46 L613.67 152.09 L615.24 152.72 L616.80 153.35 L618.37 153.98 L619.94 154.61 L621.51 155.24 L623.08 155.86 L624.64 156.49 L626.21 157.11 L627.78 157.74 L629.35 158.36 L630.92 158.99 L632.48 159.61 L634.05 160.23 L635.62 160.85 L637.19 161.48 L638.76 162.10 L640.32 162.72 L641.89 163.34 L643.46 163.96 L645.03 164.58 L646.60 165.21 L648.16 165.83 L649.73 166.45 L651.30 167.07 L652.87 167.70 L654.44 168.32 L656.00 168.94 L657.57 169.56 L659.14 170.19 L660.71 170.81 L662.28 171.44 L663.84 172.06 L665.41 172.68 L666.98 173.31 L668.55 173.93 L670.12 174.55 L671.68 175.18 L673.25 175.80 L674.82 176.42 L676.39 177.05 L677.96 177.67 L679.52 178.29 L681.09 178.91 L682.66 179.54 L684.23 180.16 L685.80 180.78 L687.36 181.40 L688.93 182.02 L690.50 182.64 L692.07 183.26 L693.64 183.88 L695.20 184.50 L696.77 185.12 L698.34 185.74 L699.91 186.36 L701.48 186.98 L703.04 187.59 L704.61 188.21 L706.18 188.82 L707.75 189.44 L709.32 190.05 L710.88 190.67 L712.45 191.28 L714.02 191.89 L715.59 192.50 L717.16 193.11 L718.72 193.72 L720.29 194.33 L721.86 194.94 L723.43 195.55 L725.00 196.15 L726.56 196.76 L728.13 197.36 L729.70 197.97 L731.27 198.57 L732.84 199.17 L734.40 199.77 L735.97 200.37 L737.54 200.97 L739.11 201.57 L740.68 202.16 L742.24 202.76 L743.81 203.35 L745.38 203.94 L746.95 204.53 L748.52 205.12 L750.08 205.71 L751.65 206.30 L753.22 206.89 L754.79 207.47 L756.36 208.05 L757.92 208.64 L759.49 209.22 L761.06 209.80 L762.63 210.37 L764.20 210.95 L765.76 211.52 L767.33 212.10 L768.90 212.67" stroke="#000" stroke-width="5.1" stroke-dasharray="1.6 10.0"/>
<path d="M455.30 43.30 L456.87 43.50 L458.44 43.89 L460.00 44.38 L461.57 45.07 L463.14 46.05 L464.71 47.21 L466.28 48.46 L467.84 49.84 L469.41 51.45 L470.98 53.21 L472.55 55.07 L474.12 56.95 L475.68 58.79 L477.25 60.68 L478.82 62.63 L480.39 64.60 L481.96 66.59 L483.52 68.59 L485.09 70.61 L486.66 72.66 L488.23 74.76 L489.80 76.95 L491.36 79.24 L492.93 81.53 L494.50 83.69 L496.07 85.73 L497.64 87.73 L499.20 89.72 L500.77 91.72 L502.34 93.73 L503.91 95.77 L505.48 97.81 L507.04 99.81 L508.61 101.77 L510.18 103.71 L511.75 105.59 L513.32 107.44 L514.88 109.22 L516.45 110.93 L518.02 112.52 L519.59 113.99 L521.16 115.37 L522.72 116.70 L524.29 117.97 L525.86 119.20 L527.43 120.38 L529.00 121.50 L530.56 122.56 L532.13 123.56 L533.70 124.51 L535.27 125.44 L536.84 126.36 L538.40 127.30 L539.97 128.25 L541.54 129.19 L543.11 130.12 L544.68 131.05 L546.24 131.98 L547.81 132.91 L549.38 133.83 L550.95 134.75 L552.52 135.66 L554.08 136.57 L555.65 137.48 L557.22 138.39 L558.79 139.29 L560.36 140.18 L561.92 141.07 L563.49 141.96 L565.06 142.85 L566.63 143.73 L568.20 144.61 L569.76 145.48 L571.33 146.35 L572.90 147.22 L574.47 148.08 L576.04 148.94 L577.60 149.79 L579.17 150.64 L580.74 151.49 L582.31 152.33 L583.88 153.17 L585.44 154.00 L587.01 154.84 L588.58 155.66 L590.15 156.49 L591.72 157.31 L593.28 158.13 L594.85 158.95 L596.42 159.76 L597.99 160.58 L599.56 161.38 L601.12 162.19 L602.69 162.99 L604.26 163.79 L605.83 164.59 L607.40 165.38 L608.96 166.17 L610.53 166.96 L612.10 167.74 L613.67 168.52 L615.24 169.30 L616.80 170.08 L618.37 170.85 L619.94 171.62 L621.51 172.38 L623.08 173.15 L624.64 173.91 L626.21 174.67 L627.78 175.42 L629.35 176.18 L630.92 176.92 L632.48 177.67 L634.05 178.41 L635.62 179.16 L637.19 179.89 L638.76 180.63 L640.32 181.36 L641.89 182.09 L643.46 182.82 L645.03 183.54 L646.60 184.26 L648.16 184.98 L649.73 185.70 L651.30 186.41 L652.87 187.12 L654.44 187.84 L656.00 188.55 L657.57 189.26 L659.14 189.97 L660.71 190.68 L662.28 191.38 L663.84 192.09 L665.41 192.80 L666.98 193.50 L668.55 194.21 L670.12 194.91 L671.68 195.61 L673.25 196.32 L674.82 197.02 L676.39 197.72 L677.96 198.42 L679.52 199.11 L681.09 199.81 L682.66 200.51 L684.23 201.20 L685.80 201.89 L687.36 202.59 L688.93 203.28 L690.50 203.97 L692.07 204.66 L693.64 205.35 L695.20 206.03 L696.77 206.72 L698.34 207.40 L699.91 208.09 L701.48 208.77 L703.04 209.45 L704.61 210.13 L706.18 210.81 L707.75 211.49 L709.32 212.16 L710.88 212.84 L712.45 213.51 L714.02 214.18 L715.59 214.85 L717.16 215.52 L718.72 216.19 L720.29 216.86 L721.86 217.52 L723.43 218.19 L725.00 218.85 L726.56 219.51 L728.13 220.17 L729.70 220.83 L731.27 221.49 L732.84 222.14 L734.40 222.80 L735.97 223.45 L737.54 224.10 L739.11 224.75 L740.68 225.40 L742.24 226.04 L743.81 226.69 L745.38 227.33 L746.95 227.97 L748.52 228.61 L750.08 229.25 L751.65 229.89 L753.22 230.52 L754.79 231.16 L756.36 231.79 L757.92 232.42 L759.49 233.05 L761.06 233.68 L762.63 234.30 L764.20 234.92 L765.76 235.54 L767.33 236.16 L768.90 236.78" stroke="#aa0000" stroke-width="2.4" stroke-dasharray="8.9 9.5"/>
</g>
<g font-family="Liberation Serif, serif" fill="#000">
<text x="88.7" y="24.60" font-size="33" text-anchor="end">1.0</text>
<text x="88.7" y="114.97" font-size="33" text-anchor="end">0.9</text>
<text x="88.7" y="205.35" font-size="33" text-anchor="end">0.8</text>
<text x="88.7" y="295.73" font-size="33" text-anchor="end">0.7</text>
<text x="88.7" y="386.10" font-size="33" text-anchor="end">0.6</text>
<text x="109.00" y="481.2" font-size="33" text-anchor="middle">0</text>
<text x="246.38" y="481.2" font-size="33" text-anchor="middle">1000</text>
<text x="383.76" y="481.2" font-size="33" text-anchor="middle">2000</text>
<text x="521.14" y="481.2" font-size="33" text-anchor="middle">3000</text>
<text x="658.52" y="481.2" font-size="33" text-anchor="middle">4000</text>
<text x="795.90" y="481.2" font-size="33" text-anchor="middle">5000</text>
<text x="452.5" y="524.6" font-size="33" text-anchor="middle" letter-spacing="-0.25">Time <tspan font-size="29.5" dy="-1.2" dx="0.6">(</tspan><tspan dy="1.2" dx="0.3">fs</tspan><tspan font-size="29.5" dy="-1.2" dx="0.3">)</tspan></text>
<text x="441.5" y="49.20" font-size="28.3" text-anchor="end">1.00</text>
<text x="441.5" y="85.19" font-size="28.3" text-anchor="end">0.99</text>
<text x="441.5" y="121.18" font-size="28.3" text-anchor="end">0.98</text>
<text x="441.5" y="157.17" font-size="28.3" text-anchor="end">0.97</text>
<text x="441.5" y="193.16" font-size="28.3" text-anchor="end">0.96</text>
<text x="441.5" y="229.15" font-size="28.3" text-anchor="end">0.95</text>
<text x="455.30" y="268.4" font-size="28.3" text-anchor="middle">0</text>
<text x="533.70" y="268.4" font-size="28.3" text-anchor="middle">50</text>
<text x="612.10" y="268.4" font-size="28.3" text-anchor="middle">100</text>
<text x="690.50" y="268.4" font-size="28.3" text-anchor="middle">150</text>
<text x="768.90" y="268.4" font-size="28.3" text-anchor="middle">200</text>
<g transform="translate(26.6 267.6) rotate(-90)">
<text x="-0.8" y="0" font-size="33" font-style="italic" stroke="#fff" stroke-width="0.45" transform="matrix(1.22 0 -0.12 0.95 0 0)">σ</text>
<text x="22.5" y="-13.2" font-size="23">ex</text>
<text x="23.5" y="7" font-size="23">11</text>
<text x="47.5" y="0" font-size="33"><tspan font-size="29.5" dy="-1.2" dx="0.6">(</tspan><tspan dy="1.2" dx="0.3">t</tspan><tspan font-size="29.5" dy="-1.2" dx="0.3">)</tspan></text>
</g>
</g>
</svg>
</body></html>
